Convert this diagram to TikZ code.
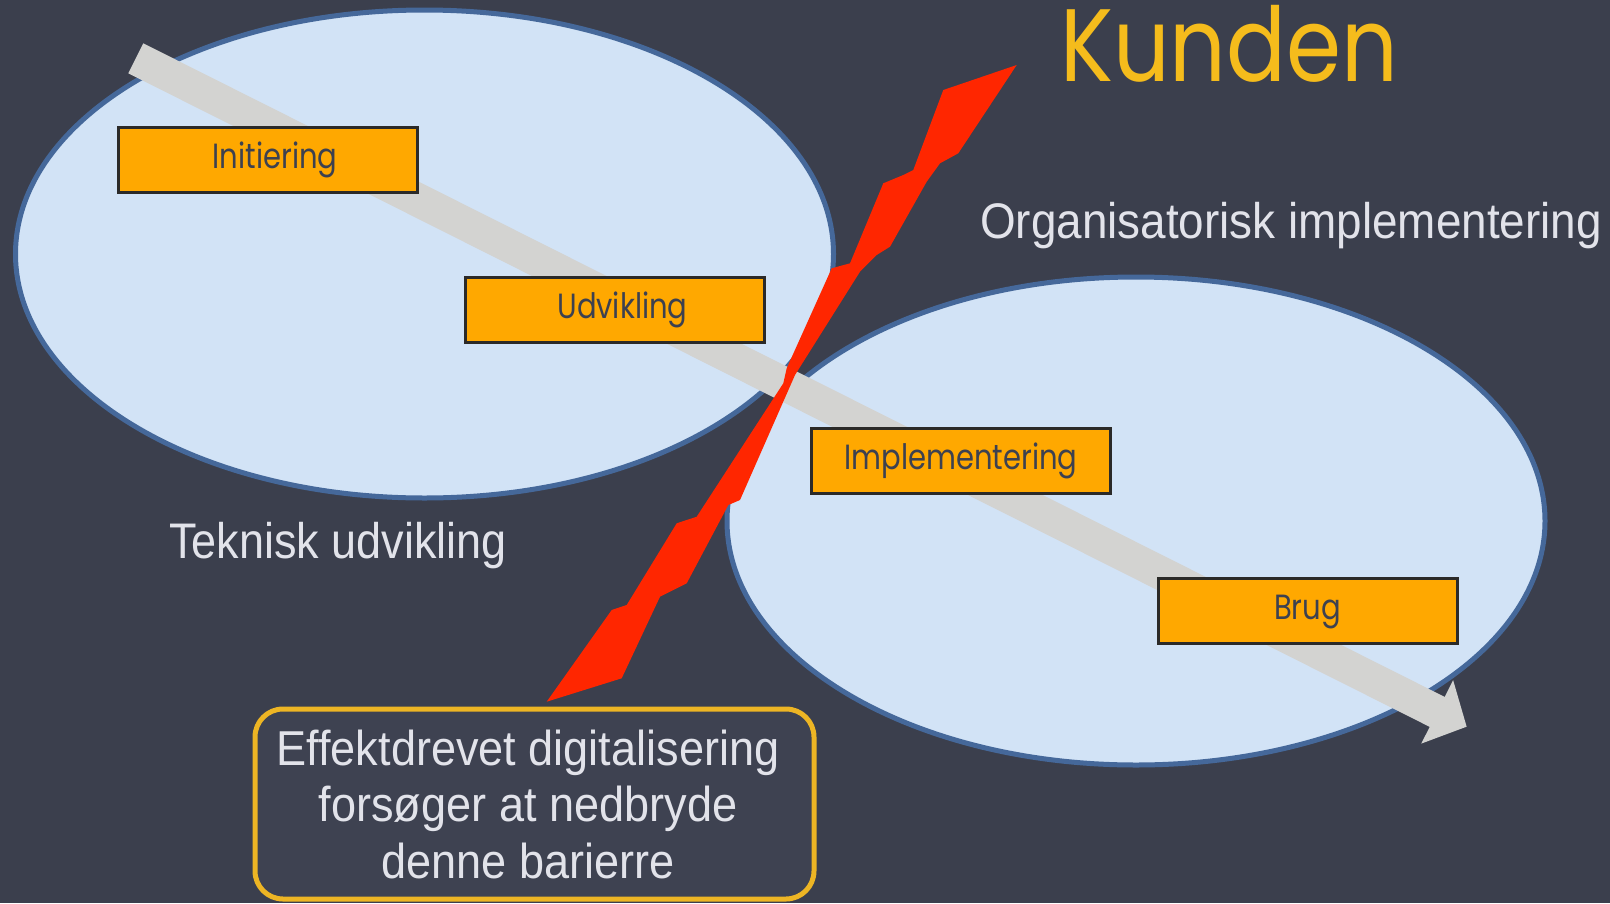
\documentclass[tikz,border=0pt]{standalone}
\usepackage{fontspec}
\usepackage{graphicx}
\setmainfont{Liberation Sans}
\newfontfamily\geofont{Poppins}
\usetikzlibrary{shapes.geometric,arrows.meta}
\definecolor{bgc}{HTML}{3B3F4D}
\definecolor{ellfill}{HTML}{D2E3F6}
\definecolor{ellline}{HTML}{45689A}
\definecolor{arrowc}{HTML}{D3D3D1}
\definecolor{boltc}{HTML}{FF2600}
\definecolor{boxc}{HTML}{FFA800}
\definecolor{boxline}{HTML}{2B2A28}
\definecolor{boxtext}{HTML}{3D4150}
\definecolor{kundc}{HTML}{F5BC1C}
\definecolor{lblc}{HTML}{E2E3EA}
\definecolor{goldc}{HTML}{EDB524}
\definecolor{notefill}{HTML}{3E4251}
\newcommand\hsq[2]{\scalebox{#1}[1]{#2}}
\begin{document}
\begin{tikzpicture}[x=1pt,y=-1pt,
  phase/.style={ellipse, draw=ellline, line width=5pt, fill=ellfill,
    minimum width=818pt, minimum height=488pt, inner sep=0pt},
  stagebox/.style={rectangle, draw=boxline, line width=3pt, fill=boxc,
    minimum width=299pt, minimum height=65pt, inner sep=0pt,
    text=boxtext, font=\geofont\fontsize{35}{40}\selectfont,
    text height=25pt, text depth=8pt},
  thinlbl/.style={anchor=base west, inner sep=0pt, text=lblc,
    font=\fontsize{50}{56}\selectfont},
  notebox/.style={rectangle, rounded corners=28pt, draw=goldc, line width=5pt,
    fill=notefill, minimum width=559pt, minimum height=190pt, inner sep=0pt},
  notetext/.style={anchor=base, inner sep=0pt, text=lblc,
    font=\fontsize{49}{56}\selectfont},
  flowarrow/.style={draw=arrowc, line width=33.5pt,
    -{Triangle[length=33pt,width=69pt]}}
]
\fill[bgc] (0,0) rectangle (1610,903);
\useasboundingbox (0,0) rectangle (1610,903);

% phases
\node[phase] (tech) at (424.5,254) {};
\node[phase] (org) at (1136,521) {};

% flow arrow
\coordinate (arrS) at (135.8,58.3);
\coordinate (arrT) at (1466.7,726.7);
\draw[flowarrow] (arrS) -- (arrT);

% barrier bolt
\fill[boltc] (1016.7,65) -- (958.3,153.3) -- (940,163.3) -- (926.7,181.7)
  -- (890,246.7) -- (876.7,255) -- (860,271.7) -- (795,375)
  -- (740,500) -- (728.3,505) -- (686.7,583.3) -- (660,596.7)
  -- (621.7,678.3) -- (546.7,701.7) -- (611.7,610) -- (626.7,605)
  -- (676.7,523.3) -- (696.7,516.7) -- (783.3,383.3) -- (786.7,368.3)
  -- (831.7,268.3) -- (850,263.3) -- (883.3,183.3) -- (903.3,175)
  -- (913.3,170) -- (943.3,90) -- cycle;

% stages
\node[stagebox] (ini) at (267.5,159.5) {\hspace*{15pt}\hsq{0.83}{Initiering}};
\node[stagebox] (udv) at (614.5,310) {\hspace*{16pt}\hsq{0.83}{Udvikling}};
\node[stagebox] (imp) at (961,460.5) {\hsq{0.83}{Implementering}};
\node[stagebox] (brug) at (1307.5,610.5) {\hsq{0.83}{Brug}};

% labels
\node[anchor=base west, inner sep=0pt, text=kundc,
  font=\geofont\fontsize{103}{110}\selectfont] (kunden) at (1060,81.7) {\hsq{0.86}{Kunden}};
\node[thinlbl] (orglbl) at (980,238) {\hsq{0.917}{Organisatorisk implementering}};
\node[thinlbl] (techlbl) at (169,558) {\hsq{0.9}{Teknisk udvikling}};

% note
\node[notebox] (note) at (534.5,804) {};
\node[notetext] (note1) at (528,765) {\hsq{0.92}{Effektdrevet digitalisering}};
\node[notetext] (note2) at (528,821) {\hsq{0.92}{forsøger at nedbryde}};
\node[notetext] (note3) at (528,878) {\hsq{0.92}{denne barierre}};
\end{tikzpicture}
\end{document}
